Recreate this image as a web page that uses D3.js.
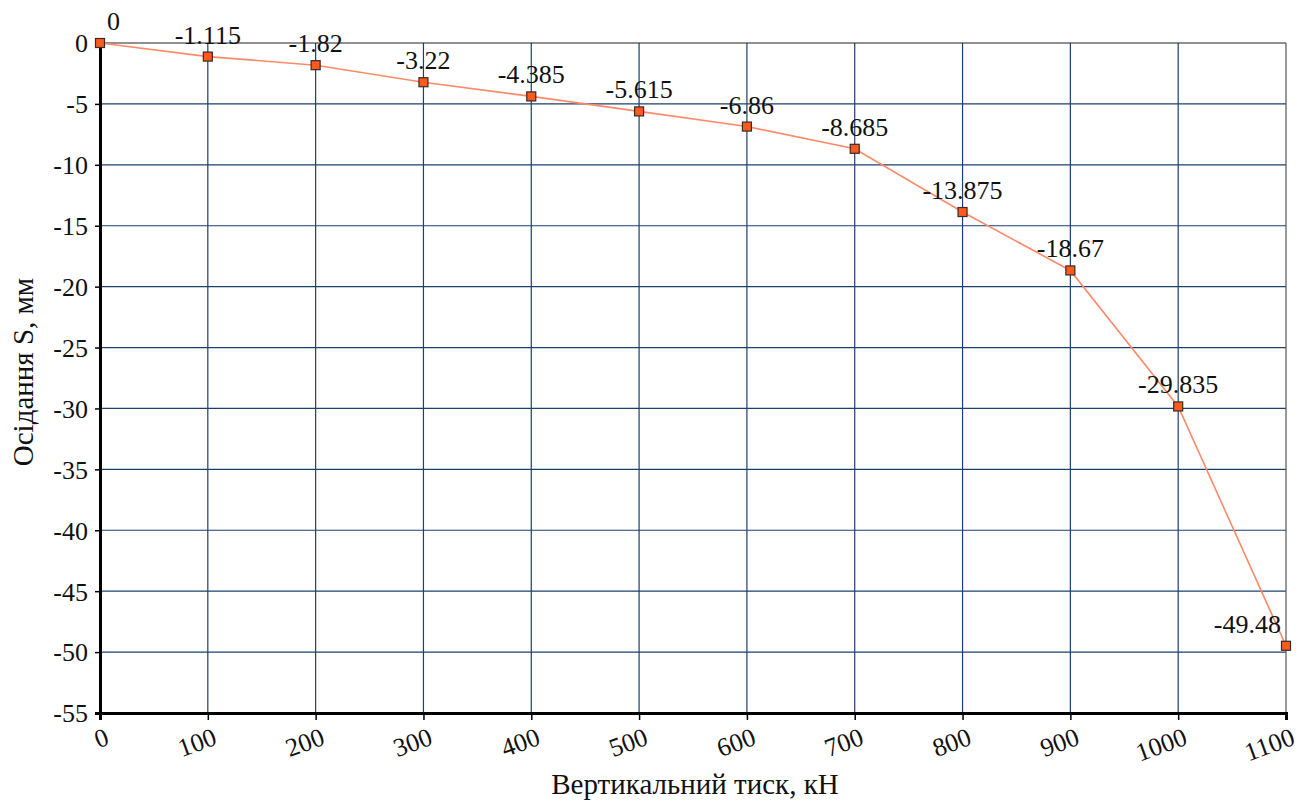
<!DOCTYPE html>
<html>
<head>
<meta charset="utf-8">
<script src="https://cdn.jsdelivr.net/npm/d3@7"></script>
<style>
  body { margin: 0; background: #fff; }
  svg text { font-family: "Liberation Serif", "Times New Roman", serif; fill: #111; }
</style>
</head>
<body>
<div class="chart"></div>
<script>
const loads = [0, 100, 200, 300, 400, 500, 600, 700, 800, 900, 1000, 1100];
const settlements = [0, -1.115, -1.82, -3.22, -4.385, -5.615, -6.86, -8.685, -13.875, -18.67, -29.835, -49.48];
const xTicks = [0, 100, 200, 300, 400, 500, 600, 700, 800, 900, 1000, 1100];
const yTicks = [0, -5, -10, -15, -20, -25, -30, -35, -40, -45, -50, -55];

const svgWidth = 1309;
const svgHeight = 805;
const margin = { top: 43, right: 23, bottom: 92, left: 100 };
const width = svgWidth - margin.left - margin.right;
const height = svgHeight - margin.top - margin.bottom;
const serif = '"Liberation Serif", "Times New Roman", serif';

const svg = d3.select('.chart')
  .append('svg')
  .attr('width', svgWidth)
  .attr('height', svgHeight);

const chartGroup = svg.append('g')
  .attr('transform', `translate(${margin.left}, ${margin.top})`);

const x = d3.scaleLinear().domain([0, 1100]).range([0, width]);
const y = d3.scaleLinear().domain([-55, 0]).range([height, 0]);

// grid
chartGroup.append('g')
  .selectAll('line')
  .data(xTicks.slice(1, -1))
  .enter().append('line')
  .attr('x1', d => x(d)).attr('x2', d => x(d))
  .attr('y1', 0).attr('y2', height)
  .attr('stroke', '#1d3f6e').attr('stroke-width', 1.2);

chartGroup.append('g')
  .selectAll('line')
  .data(yTicks.slice(1, -1))
  .enter().append('line')
  .attr('x1', 0).attr('x2', width)
  .attr('y1', d => y(d)).attr('y2', d => y(d))
  .attr('stroke', '#1d3f6e').attr('stroke-width', 1.2);

// frame top/right
chartGroup.append('line')
  .attr('x1', 0).attr('x2', width).attr('y1', 0).attr('y2', 0)
  .attr('stroke', '#222').attr('stroke-width', 1.2);
chartGroup.append('line')
  .attr('x1', width).attr('x2', width).attr('y1', 0).attr('y2', height)
  .attr('stroke', '#555').attr('stroke-width', 1.2);

// axes
const leftAxis = d3.axisLeft(y).tickValues(yTicks).tickSize(5).tickPadding(7).tickFormat(d => String(d));
const bottomAxis = d3.axisBottom(x).tickValues(xTicks).tickSize(7).tickFormat(d => String(d));

const gy = chartGroup.append('g').call(leftAxis)
  .attr('font-family', serif).attr('font-size', 26);
gy.select('.domain').attr('stroke', '#000').attr('stroke-width', 3);
gy.selectAll('.tick line').attr('stroke', '#000').attr('stroke-width', 1.5);
gy.selectAll('.tick text')
  .attr('fill', '#111')
  .attr('dy', '0.34em');

const gx = chartGroup.append('g')
  .attr('transform', `translate(0, ${height})`)
  .call(bottomAxis)
  .attr('font-family', serif).attr('font-size', 26);
gx.select('.domain').attr('stroke', '#000').attr('stroke-width', 3);
gx.selectAll('.tick line').attr('stroke', '#000').attr('stroke-width', 1.5);
gx.selectAll('.tick text')
  .attr('fill', '#111')
  .attr('text-anchor', 'end')
  .attr('y', 0)
  .attr('dy', '0')
  .attr('transform', 'translate(10, 31) rotate(-20)');

// line
const line = d3.line()
  .x((d, i) => x(loads[i]))
  .y(d => y(d));

chartGroup.append('path')
  .datum(settlements)
  .attr('d', line)
  .attr('fill', 'none')
  .attr('stroke', '#ff8a6a')
  .attr('stroke-width', 1.6);

// markers
chartGroup.selectAll('rect.pt')
  .data(settlements)
  .enter().append('rect')
  .attr('class', 'pt')
  .attr('x', (d, i) => x(loads[i]) - 4.5)
  .attr('y', d => y(d) - 4.5)
  .attr('width', 9).attr('height', 9)
  .attr('fill', '#ff5a1e')
  .attr('stroke', '#3a2a22')
  .attr('stroke-width', 1.2);

// value labels, kept inside the plot
const labels = chartGroup.selectAll('text.val')
  .data(settlements)
  .enter().append('text')
  .attr('class', 'val')
  .attr('y', d => y(d) - 13)
  .style('font-size', '26px')
  .text(d => String(d));

labels.each(function(d, i) {
  const w = this.getComputedTextLength();
  let left = x(loads[i]) - w / 2;
  if (left < 7) left = 7;
  if (left + w > width - 5) left = width - 5 - w;
  d3.select(this).attr('x', left);
});

// axis titles
svg.append('text')
  .attr('x', 695)
  .attr('y', 794)
  .attr('text-anchor', 'middle')
  .style('font-size', '29px')
  .text('Вертикальний тиск, кН');

svg.append('text')
  .attr('transform', `translate(33, 372) rotate(-90)`)
  .attr('text-anchor', 'middle')
  .style('font-size', '29px')
  .text('Осідання S, мм');
</script>
</body>
</html>
